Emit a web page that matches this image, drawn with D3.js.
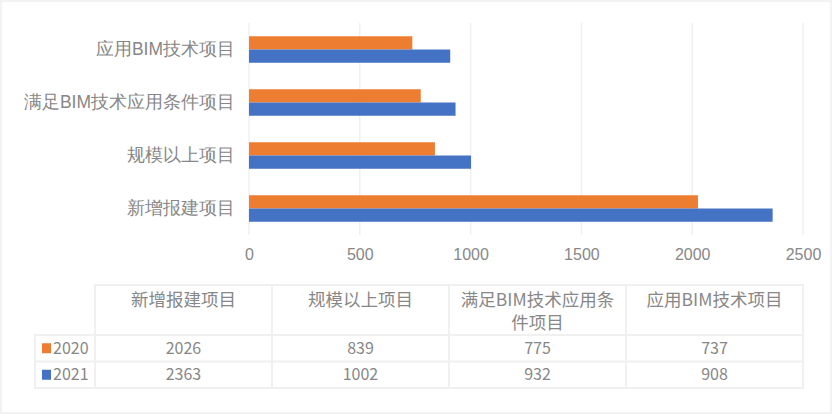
<!DOCTYPE html>
<html>
<head>
<meta charset="utf-8">
<script src="https://cdn.jsdelivr.net/npm/d3@7"></script>
<style>
    html, body { margin: 0; padding: 0; background: #f3f3f3; }
    svg { display: block; font-family: "Noto Sans CJK SC", "Noto Sans", sans-serif; }
</style>
</head>
<body>
<svg id="chart" width="832" height="414"></svg>
<script>
const categories = ['新增报建项目', '规模以上项目', '满足BIM技术应用条件项目', '应用BIM技术项目']
const seriesNames = ['2020', '2021']
const values2020 = [2026, 839, 775, 737]
const values2021 = [2363, 1002, 932, 908]
const xTicks = [0, 500, 1000, 1500, 2000, 2500]

const colours = { '2020': '#ed7d31', '2021': '#4472c4' }
const textColour = '#878787'
const gridColour = '#f0f0f0'

const series = [
    { name: seriesNames[0], values: values2020 },
    { name: seriesNames[1], values: values2021 }
]

const svg = d3.select('#chart')

svg.append('rect')
    .attr('x', 2).attr('y', 2)
    .attr('width', 828).attr('height', 410)
    .attr('fill', '#fff')

const plot = { left: 249, right: 803, top: 23, bottom: 235 }

const x = d3.scaleLinear().domain([0, 2500]).range([plot.left, plot.right])

// top to bottom the chart shows categories in reverse order
const y = d3.scaleBand()
    .domain(categories.slice().reverse())
    .range([plot.top, plot.bottom])
    .paddingInner(0.5)
    .paddingOuter(0.25)

const ySub = d3.scaleBand().domain(seriesNames).range([0, y.bandwidth()])

// gridlines
svg.append('g')
    .selectAll('line')
    .data(xTicks)
    .join('line')
    .attr('x1', d => x(d)).attr('x2', d => x(d))
    .attr('y1', plot.top).attr('y2', plot.bottom)
    .attr('stroke', gridColour)
    .attr('stroke-width', 1.5)

// bars
svg.append('g')
    .selectAll('g')
    .data(series)
    .join('g')
    .attr('fill', d => colours[d.name])
    .selectAll('rect')
    .data(d => d.values.map((v, i) => ({ name: d.name, cat: categories[i], v })))
    .join('rect')
    .attr('x', x(0))
    .attr('y', d => y(d.cat) + ySub(d.name))
    .attr('width', d => x(d.v) - x(0))
    .attr('height', ySub.bandwidth())

// category axis
svg.append('g')
    .attr('transform', `translate(${plot.left}, 0)`)
    .style('font-size', '17.5px')
    .call(d3.axisLeft(y).tickSize(0).tickPadding(14))
    .call(g => {
        g.select('.domain').remove()
        g.selectAll('text').attr('fill', textColour)
    })

// value axis
svg.append('g')
    .attr('transform', `translate(0, ${plot.bottom})`)
    .style('font-size', '16px')
    .call(d3.axisBottom(x).tickValues(xTicks).tickFormat(d3.format('d')).tickSize(0).tickPadding(14))
    .call(g => {
        g.select('.domain').remove()
        g.selectAll('text').attr('fill', textColour)
    })

// data table
const table = { left: 95, right: 803, legendLeft: 35, headTop: 285, headBottom: 335, rowHeight: 26.5 }
const col = d3.scaleBand().domain(categories).range([table.left, table.right])
const rowTop = i => table.headBottom + i * table.rowHeight
const tableBottom = rowTop(series.length)

const borders = svg.append('g')
    .attr('stroke', '#f0f0f0')
    .attr('stroke-width', 2)
    .attr('fill', 'none')

borders.append('rect')
    .attr('x', table.left).attr('y', table.headTop)
    .attr('width', table.right - table.left).attr('height', tableBottom - table.headTop)
borders.append('rect')
    .attr('x', table.legendLeft).attr('y', table.headBottom)
    .attr('width', table.left - table.legendLeft).attr('height', tableBottom - table.headBottom)
borders.selectAll('.col-line')
    .data(categories.slice(1))
    .join('line')
    .attr('x1', d => col(d)).attr('x2', d => col(d))
    .attr('y1', table.headTop).attr('y2', tableBottom)
borders.selectAll('.row-line')
    .data(d3.range(series.length))
    .join('line')
    .attr('x1', table.legendLeft).attr('x2', table.right)
    .attr('y1', i => rowTop(i)).attr('y2', i => rowTop(i))

// header text, wrapped within the column
const measure = svg.append('text').style('font-size', '17.5px').attr('visibility', 'hidden')
const textWidth = s => { measure.text(s); return measure.node().getComputedTextLength() }

function wrap(label, maxWidth) {
    const tokens = label.match(/[A-Za-z0-9]+|./g)
    const lines = []
    let line = ''
    tokens.forEach(t => {
        if (line && textWidth(line + t) > maxWidth) {
            lines.push(line)
            line = t
        } else line += t
    })
    lines.push(line)
    return lines
}

const header = svg.append('g')
    .style('font-size', '17.5px')
    .attr('fill', textColour)
    .attr('text-anchor', 'middle')

categories.forEach(c => {
    const lines = wrap(c, col.bandwidth() - 12)
    header.append('text')
        .attr('x', col(c) + col.bandwidth() / 2)
        .selectAll('tspan')
        .data(lines)
        .join('tspan')
        .attr('x', col(c) + col.bandwidth() / 2)
        .attr('y', (d, i) => 300 + i * 23)
        .attr('dy', '0.35em')
        .text(d => d)
})
measure.remove()

// rows
const rows = svg.append('g')
    .style('font-size', '16px')
    .attr('fill', textColour)
    .selectAll('g')
    .data(series)
    .join('g')
    .attr('transform', (d, i) => `translate(0, ${rowTop(i) + table.rowHeight / 2})`)

rows.append('rect')
    .attr('x', 42).attr('y', -5)
    .attr('width', 9).attr('height', 10)
    .attr('fill', d => colours[d.name])

rows.append('text')
    .attr('x', 53)
    .attr('dy', '0.35em')
    .text(d => d.name)

rows.selectAll('.val')
    .data(d => d.values.map((v, i) => ({ cat: categories[i], v })))
    .join('text')
    .attr('x', d => col(d.cat) + col.bandwidth() / 2)
    .attr('dy', '0.35em')
    .attr('text-anchor', 'middle')
    .text(d => d.v)
</script>
</body>
</html>
